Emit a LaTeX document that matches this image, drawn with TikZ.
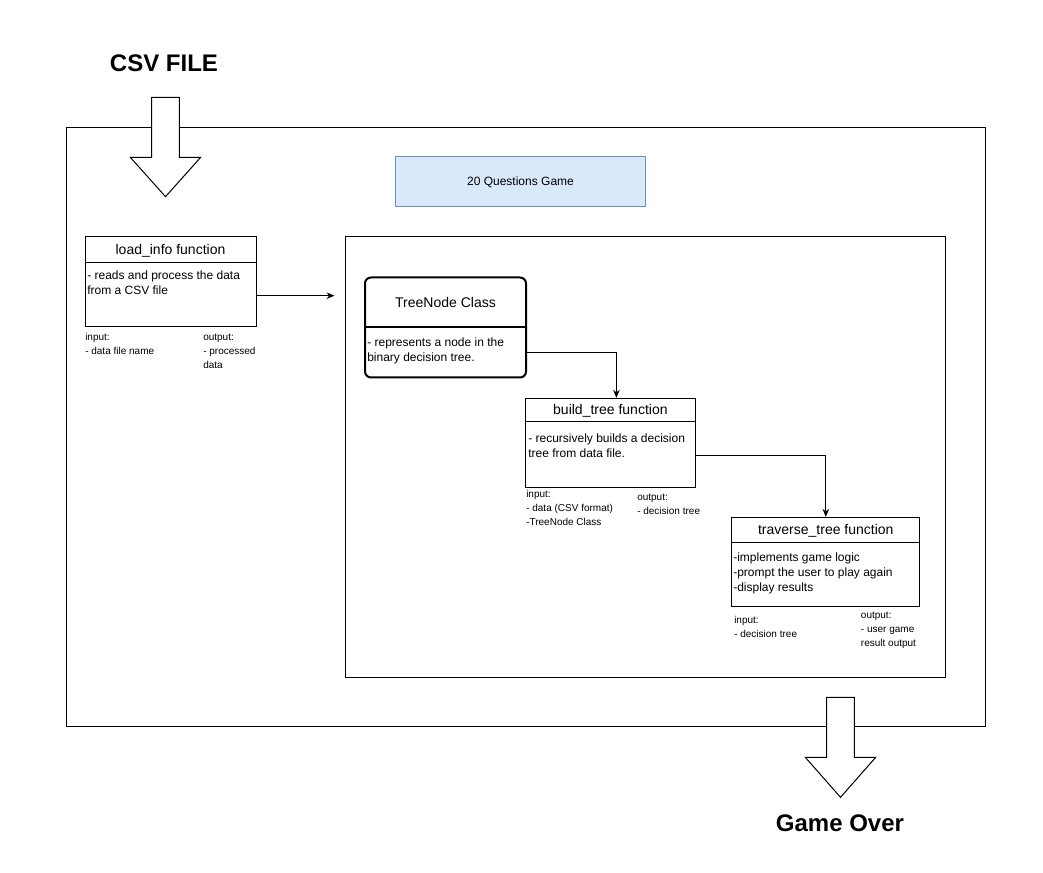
\documentclass[tikz,border=0pt]{standalone}
\usepackage{fontspec}
\setmainfont{Liberation Sans}
\usetikzlibrary{arrows.meta, positioning, calc}
\definecolor{gameblue}{HTML}{DAE8FC}
\definecolor{gameborder}{HTML}{6C8EBF}
\tikzset{funcbox/.style={draw, line width=0.75pt, rectangle, inner sep=0pt},
  functitle/.style={font=\fontsize{10.5}{12}\selectfont},
  funcbody/.style={anchor=north west, align=left, inner sep=0pt, font=\fontsize{9}{11}\selectfont},
  iotext/.style={anchor=north west, align=left, inner sep=0pt, font=\fontsize{7.5}{10.5}\selectfont},
  flow/.style={-{Stealth[length=6pt,width=5pt]}, line width=0.75pt},
  bigarrow/.style={draw, fill=white, line width=0.75pt},
  bigtext/.style={font=\fontsize{18}{20}\selectfont\bfseries}}

\begin{document}
\begin{tikzpicture}[x=0.75pt, y=-0.75pt]
            \useasboundingbox (0,0) rectangle (1043,873);
            \node[funcbox, minimum width=689.25pt, minimum height=448.5pt] (game_frame) at (525.5,427) {};
            \node[funcbox, minimum width=450pt, minimum height=330pt] (tree_frame) at (645,457) {};
            \node[funcbox, draw=gameborder, fill=gameblue, minimum width=187.5pt, minimum height=37.5pt, font=\fontsize{9}{11}\selectfont] (game_title) at (520.5,182) {20 Questions Game};
            \draw[bigarrow] (151.7,97.3) -- (179.3,97.3) -- (179.3,157.3) -- (200.7,157.3) -- (165.5,196.7) -- (130.3,157.3) -- (151.7,157.3) -- cycle;
            \node[bigtext] (csv_file) at (164,63) {CSV FILE};
            \draw[bigarrow] (826.7,697.3) -- (854.3,697.3) -- (854.3,757.3) -- (875.7,757.3) -- (840.5,797.3) -- (805.3,757.3) -- (826.7,757.3) -- cycle;
            \node[bigtext] (game_over) at (840,823) {Game Over};

            \node[funcbox, minimum width=128.25pt, minimum height=67.5pt] (load_info) at (170.5,282) {};
            \draw[line width=0.75pt] ($(load_info.north west)+(0,26)$) -- ($(load_info.north east)+(0,26)$);
            \node[functitle] (load_info_title) at ($(load_info.north)+(0,14)$) {load\_info function};
            \node[funcbody] (load_info_body) at (87,271) {- reads and process the data\\from a CSV file};
            \node[iotext] (load_info_in) at (85,333) {input:\\- data file name};
            \node[iotext] (load_info_out) at (203,334) {output:\\- processed\\data};

            \node[funcbox, line width=1.5pt, rounded corners=4.5pt, minimum width=120.75pt, minimum height=75pt] (treenode) at (445.5,327.5) {};
            \draw[line width=1.5pt] (treenode.west) -- (treenode.east);
            \node[functitle] (treenode_title) at ($(treenode.north)+(0,26)$) {TreeNode Class};
            \node[funcbody] (treenode_body) at (367,338) {- represents a node in the\\binary decision tree.};

            \node[funcbox, minimum width=127pt, minimum height=66.75pt] (build_tree) at (610.4,442.8) {};
            \draw[line width=0.75pt] ($(build_tree.north west)+(0,23.4)$) -- ($(build_tree.north east)+(0,23.4)$);
            \node[functitle] (build_tree_title) at ($(build_tree.north)+(0,13)$) {build\_tree function};
            \node[funcbody] (build_tree_body) at (528,434) {- recursively builds a decision\\tree from data file.};
            \node[iotext] (build_tree_in) at (526,490) {input:\\- data (CSV format)\\-TreeNode Class};
            \node[iotext] (build_tree_out) at (637,494) {output:\\- decision tree};

            \node[funcbox, minimum width=141.25pt, minimum height=67pt] (traverse_tree) at (825.8,562) {};
            \draw[line width=0.75pt] ($(traverse_tree.north west)+(0,26)$) -- ($(traverse_tree.north east)+(0,26)$);
            \node[functitle] (traverse_tree_title) at ($(traverse_tree.north)+(0,14)$) {traverse\_tree function};
            \node[funcbody] (traverse_tree_body) at (733,553) {-implements game logic\\-prompt the user to play again\\-display results};
            \node[iotext] (traverse_tree_in) at (734,616) {input:\\- decision tree};
            \node[iotext] (traverse_tree_out) at (860.7,611.7) {output:\\- user game\\result output};

            \coordinate (tree_entry) at ($(tree_frame.west |- load_info.east)+(-10,13.7)$);
            \draw[flow] ($(load_info.east)+(0,13.7)$) -- (tree_entry);
            \draw[flow] ($(treenode.east)+(0,25)$) -| ($(build_tree.north)+(6,0)$);
            \draw[flow] ($(build_tree.east)+(0,13)$) -| (traverse_tree.north);
      \end{tikzpicture}
\end{document}
